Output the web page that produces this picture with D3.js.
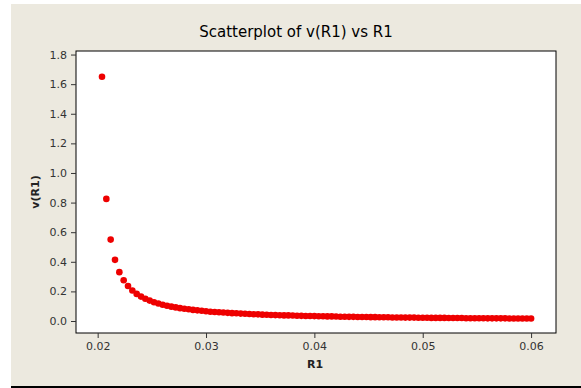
<!DOCTYPE html>
<html>
<head>
<meta charset="utf-8">
<script src="https://cdn.jsdelivr.net/npm/d3@7"></script>
<style>
  body { margin: 0; background: #fff; }
  svg { display: block; }
</style>
</head>
<body>
<div id="chart"></div>
<script>
// R1 values (x)
const r1 = [
  0.0204,0.0208,0.0212,0.0216,0.0220,0.0224,0.0228,0.0232,0.0236,0.0240,
  0.0244,0.0248,0.0252,0.0256,0.0260,0.0264,0.0268,0.0272,0.0276,0.0280,
  0.0284,0.0288,0.0292,0.0296,0.0300,0.0304,0.0308,0.0312,0.0316,0.0320,
  0.0324,0.0328,0.0332,0.0336,0.0340,0.0344,0.0348,0.0352,0.0356,0.0360,
  0.0364,0.0368,0.0372,0.0376,0.0380,0.0384,0.0388,0.0392,0.0396,0.0400,
  0.0404,0.0408,0.0412,0.0416,0.0420,0.0424,0.0428,0.0432,0.0436,0.0440,
  0.0444,0.0448,0.0452,0.0456,0.0460,0.0464,0.0468,0.0472,0.0476,0.0480,
  0.0484,0.0488,0.0492,0.0496,0.0500,0.0504,0.0508,0.0512,0.0516,0.0520,
  0.0524,0.0528,0.0532,0.0536,0.0540,0.0544,0.0548,0.0552,0.0556,0.0560,
  0.0564,0.0568,0.0572,0.0576,0.0580,0.0584,0.0588,0.0592,0.0596,0.0600
];

// v(R1) values (y)
const vR1 = [
  1.650,0.825,0.550,0.413,0.330,0.275,0.236,0.206,0.183,0.165,
  0.150,0.138,0.127,0.118,0.110,0.103,0.097,0.092,0.087,0.083,
  0.079,0.075,0.072,0.069,0.066,0.063,0.061,0.059,0.057,0.055,
  0.053,0.052,0.050,0.049,0.047,0.046,0.045,0.043,0.042,0.041,
  0.040,0.039,0.038,0.038,0.037,0.036,0.035,0.034,0.034,0.033,
  0.032,0.032,0.031,0.031,0.030,0.029,0.029,0.028,0.028,0.027,
  0.027,0.027,0.026,0.026,0.025,0.025,0.025,0.024,0.024,0.024,
  0.023,0.023,0.023,0.022,0.022,0.022,0.021,0.021,0.021,0.021,
  0.020,0.020,0.020,0.020,0.019,0.019,0.019,0.019,0.019,0.018,
  0.018,0.018,0.018,0.018,0.017,0.017,0.017,0.017,0.017,0.017
];

const xTicks = [0.02, 0.03, 0.04, 0.05, 0.06];
const yTicks = [0.0, 0.2, 0.4, 0.6, 0.8, 1.0, 1.2, 1.4, 1.6, 1.8];

const data = r1.map((d, i) => ({ x: d, y: vR1[i] }));

const W = 581, H = 388;
const plot = { left: 76, top: 51, right: 556, bottom: 333 };

const svg = d3.select("#chart").append("svg")
  .attr("width", W).attr("height", H);

// beige panel + bottom rule
svg.append("rect")
  .attr("x", 11).attr("y", 4)
  .attr("width", W - 11).attr("height", 382)
  .attr("fill", "#ece9df");
svg.append("rect")
  .attr("x", 11).attr("y", 386)
  .attr("width", W - 11).attr("height", 2)
  .attr("fill", "#000");

const x = d3.scaleLinear().domain([0.018, 0.0623]).range([plot.left, plot.right]);
const y = d3.scaleLinear().domain([-0.081, 1.824]).range([plot.bottom, plot.top]);

// plot area
svg.append("rect")
  .attr("x", plot.left).attr("y", plot.top)
  .attr("width", plot.right - plot.left).attr("height", plot.bottom - plot.top)
  .attr("fill", "#fff").attr("stroke", "#000").attr("stroke-width", 1);

const tickFont = "'DejaVu Sans', sans-serif";

const xAxis = svg.append("g")
  .attr("transform", `translate(0,${plot.bottom})`)
  .call(d3.axisBottom(x).tickValues(xTicks).tickFormat(d3.format(".2f")).tickSize(5).tickSizeOuter(0).tickPadding(4));
const yAxis = svg.append("g")
  .attr("transform", `translate(${plot.left},0)`)
  .call(d3.axisLeft(y).tickValues(yTicks).tickFormat(d3.format(".1f")).tickSize(5).tickSizeOuter(0).tickPadding(4));

[xAxis, yAxis].forEach(g => {
  g.select(".domain").remove();
  g.selectAll("line").attr("stroke", "#333");
  g.selectAll("text").attr("fill", "#333")
    .style("font-family", tickFont).style("font-size", "11px");
});

// points
svg.append("g").selectAll("circle")
  .data(data)
  .enter().append("circle")
  .attr("cx", d => x(d.x))
  .attr("cy", d => y(d.y))
  .attr("r", 3.3)
  .attr("fill", "#ee0000");

// title and axis labels
svg.append("text")
  .attr("x", 296).attr("y", 37)
  .attr("text-anchor", "middle")
  .style("font-family", "'DejaVu Sans', sans-serif")
  .style("font-size", "15px")
  .attr("fill", "#000")
  .text("Scatterplot of v(R1) vs R1");

svg.append("text")
  .attr("x", (plot.left + plot.right) / 2 - 1).attr("y", 368)
  .attr("text-anchor", "middle")
  .style("font-family", tickFont).style("font-size", "11px").style("font-weight", "bold")
  .attr("fill", "#222")
  .text("R1");

svg.append("text")
  .attr("transform", `translate(39,${(plot.top + plot.bottom) / 2}) rotate(-90)`)
  .attr("text-anchor", "middle")
  .style("font-family", tickFont).style("font-size", "11px").style("font-weight", "bold")
  .attr("fill", "#222")
  .text("v(R1)");
</script>
</body>
</html>
